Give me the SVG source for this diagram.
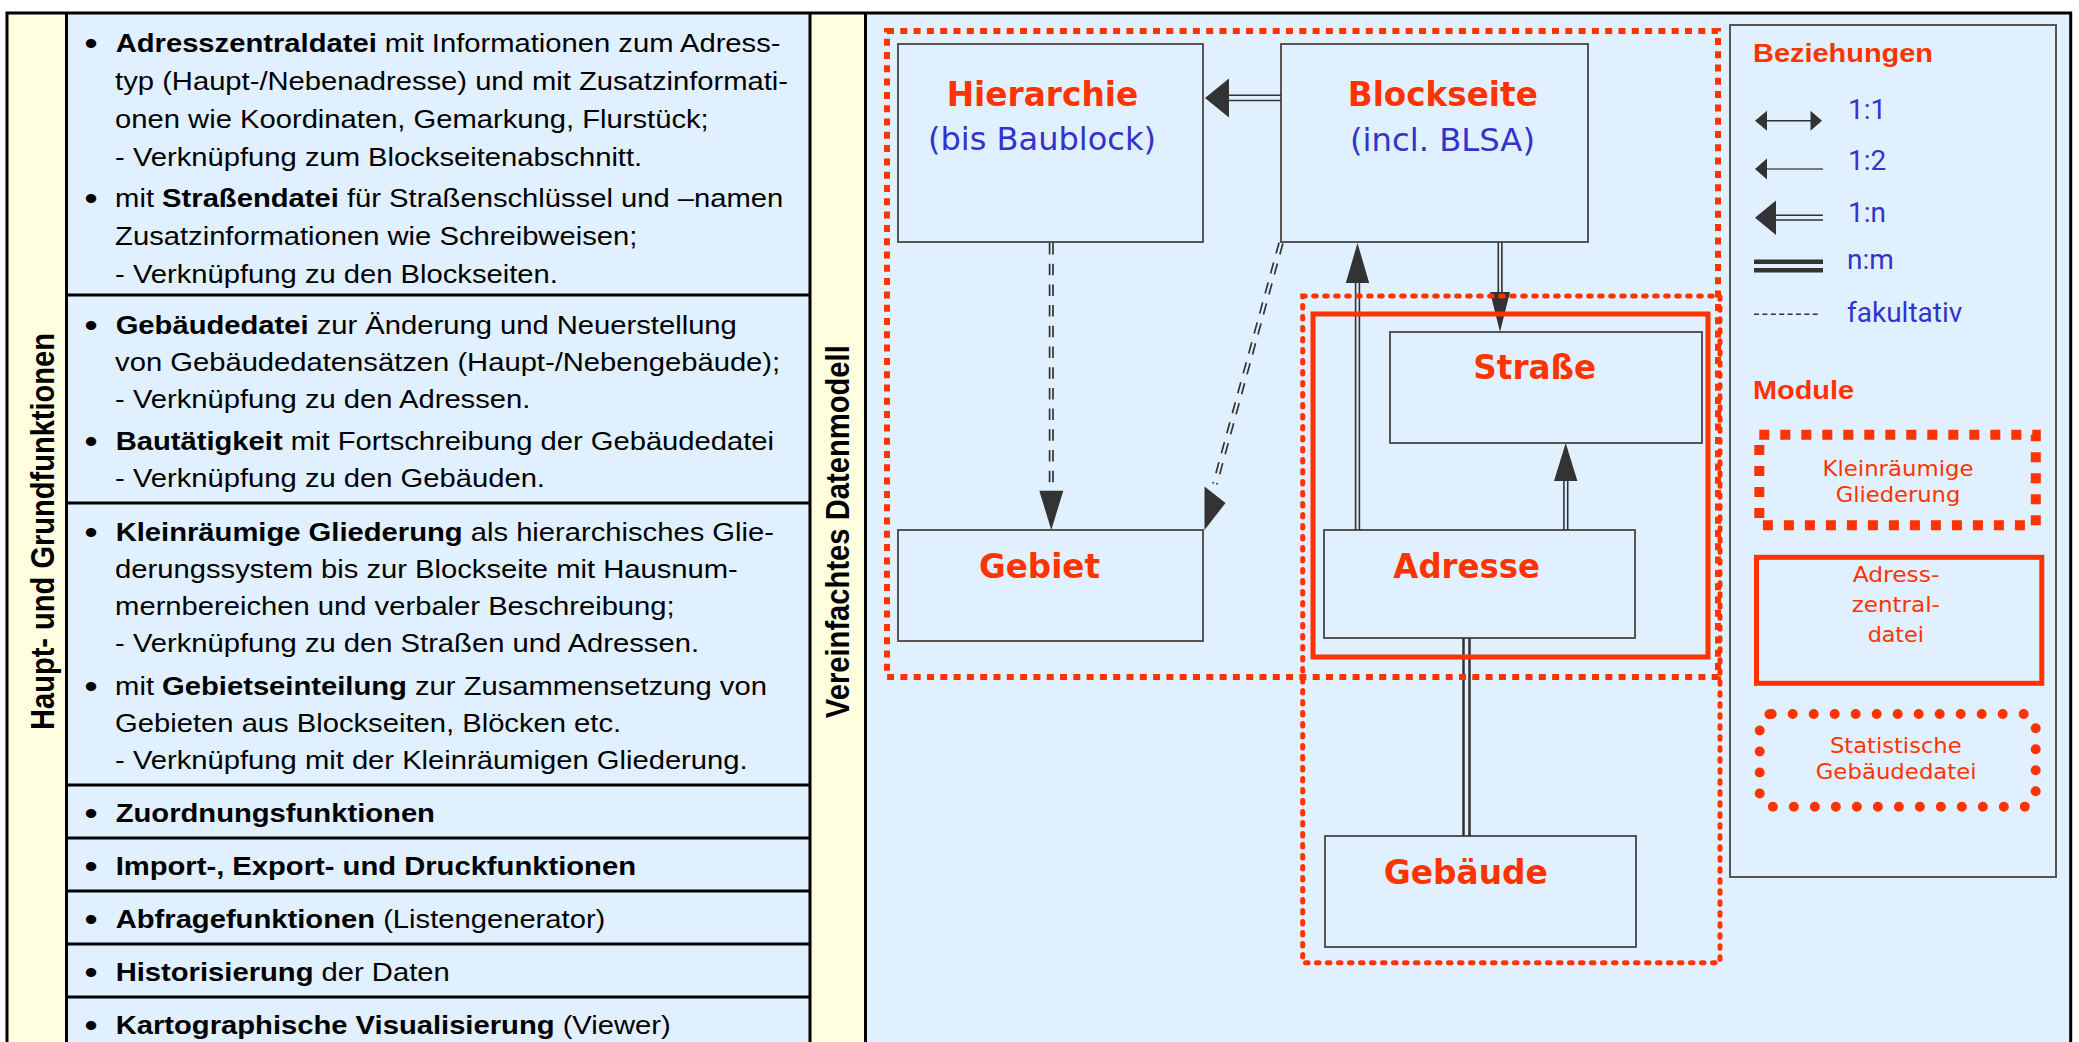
<svg xmlns="http://www.w3.org/2000/svg" width="2079" height="1042" viewBox="0 0 2079 1042">
<defs>
<style>
.frame{stroke:#000;stroke-width:3;fill:none}
.sep{stroke:#000;stroke-width:3;fill:none}
.txt{font-family:"Liberation Sans",Arial,sans-serif;font-size:26px;fill:#000}
.b{font-weight:bold}
.bul{font-weight:bold;font-size:32px;text-anchor:middle}
.side{font-family:"Liberation Sans",Arial,sans-serif;font-weight:bold;font-size:29px;fill:#000;text-anchor:middle}
.box{fill:none;stroke:#555;stroke-width:2}
.lbl{font-family:"DejaVu Sans",Verdana,sans-serif;font-weight:bold;font-size:34px;fill:#FF3300;text-anchor:middle}
.sub{font-family:"DejaVu Sans",Verdana,sans-serif;font-size:32px;fill:#3333CC;text-anchor:middle}
.ln{stroke:#333;stroke-width:1.6;fill:none}
.dl{stroke:#333;stroke-width:1.7;fill:none;stroke-dasharray:11.5 9.2}
.ah{fill:#333;stroke:none}
.modK{fill:none;stroke:#FF3300;stroke-width:6;stroke-dasharray:7 6.3}
.modA{fill:none;stroke:#FF3300;stroke-width:5}
.modS{fill:none;stroke:#FF3300;stroke-width:5;stroke-linecap:round;stroke-dasharray:2.5 8.5}
.leg{font-family:Roboto,"Liberation Sans",sans-serif;font-size:28px;fill:#3333CC}
.legh{font-family:"Liberation Sans",Arial,sans-serif;font-weight:bold;font-size:26px;fill:#FF3300}
.mt{font-family:"DejaVu Sans",Verdana,sans-serif;font-size:21px;fill:#FF3300;text-anchor:middle}
</style>
</defs>

<g id="background">
<rect x="0" y="0" width="2079" height="1042" fill="#fff"/>
<rect x="7" y="13" width="59.5" height="1029" fill="#FFFFE0"/>
<rect x="66.5" y="13" width="743.5" height="1029" fill="#E0F0FF"/>
<rect x="810" y="13" width="55.5" height="1029" fill="#FFFFE0"/>
<rect x="865.5" y="13" width="1205.2" height="1029" fill="#E0F0FF"/>
<path class="frame" d="M7,1042 V13 H2070.7 V1042 M66.5,13 V1042 M810,13 V1042 M865.5,13 V1042"/>
<path class="sep" d="M66.5,295 H810 M66.5,503 H810 M66.5,785 H810 M66.5,838 H810 M66.5,891 H810 M66.5,944 H810 M66.5,997 H810"/>
</g>

<g id="side-labels">
<text class="side" transform="translate(54,531.5) scale(1.12,1) rotate(-90)" textLength="397" lengthAdjust="spacingAndGlyphs">Haupt- und Grundfunktionen</text>
<text class="side" transform="translate(849,531.7) scale(1.12,1) rotate(-90)" textLength="373" lengthAdjust="spacingAndGlyphs">Vereinfachtes Datenmodell</text>
</g>

<g id="functions" class="txt" transform="scale(1.123,1)">
<g class="bul">
<text x="81" y="54.5">•</text>
<text x="81" y="209">•</text>
<text x="81" y="336">•</text>
<text x="81" y="452">•</text>
<text x="81" y="543">•</text>
<text x="81" y="697">•</text>
<text x="81" y="824">•</text>
<text x="81" y="877">•</text>
<text x="81" y="930">•</text>
<text x="81" y="983">•</text>
<text x="81" y="1036">•</text>
</g>
<text x="103" y="52.5"><tspan class="b">Adresszentraldatei</tspan> mit Informationen zum Adress-</text>
<text x="102.5" y="90.5">typ (Haupt-/Nebenadresse) und mit Zusatzinformati-</text>
<text x="102.5" y="128.5">onen wie Koordinaten, Gemarkung, Flurstück;</text>
<text x="102.5" y="166.5">- Verknüpfung zum Blockseitenabschnitt.</text>
<text x="102.5" y="207">mit <tspan class="b">Straßendatei</tspan> für Straßenschlüssel und –namen</text>
<text x="102.5" y="245">Zusatzinformationen wie Schreibweisen;</text>
<text x="102.5" y="283">- Verknüpfung zu den Blockseiten.</text>

<text x="103" y="334"><tspan class="b">Gebäudedatei</tspan> zur Änderung und Neuerstellung</text>
<text x="102.5" y="371">von Gebäudedatensätzen (Haupt-/Nebengebäude);</text>
<text x="102.5" y="408">- Verknüpfung zu den Adressen.</text>
<text x="103" y="450"><tspan class="b">Bautätigkeit</tspan> mit Fortschreibung der Gebäudedatei</text>
<text x="102.5" y="487">- Verknüpfung zu den Gebäuden.</text>

<text x="103" y="541"><tspan class="b">Kleinräumige Gliederung</tspan> als hierarchisches Glie-</text>
<text x="102.5" y="578">derungssystem bis zur Blockseite mit Hausnum-</text>
<text x="102.5" y="615">mernbereichen und verbaler Beschreibung;</text>
<text x="102.5" y="652">- Verknüpfung zu den Straßen und Adressen.</text>
<text x="102.5" y="695">mit <tspan class="b">Gebietseinteilung</tspan> zur Zusammensetzung von</text>
<text x="102.5" y="732">Gebieten aus Blockseiten, Blöcken etc.</text>
<text x="102.5" y="769">- Verknüpfung mit der Kleinräumigen Gliederung.</text>

<text x="103" y="822"><tspan class="b">Zuordnungsfunktionen</tspan></text>
<text x="103" y="875"><tspan class="b">Import-, Export- und Druckfunktionen</tspan></text>
<text x="103" y="928"><tspan class="b">Abfragefunktionen</tspan> (Listengenerator)</text>
<text x="103" y="981"><tspan class="b">Historisierung</tspan> der Daten</text>
<text x="103" y="1034"><tspan class="b">Kartographische Visualisierung</tspan> (Viewer)</text>
</g>

<g id="node-hierarchie">
<rect class="box" x="898" y="44" width="305" height="198"/>
<text class="lbl" x="1042.5" y="106" textLength="191.6" lengthAdjust="spacingAndGlyphs">Hierarchie</text>
<text class="sub" x="1042" y="150" textLength="228" lengthAdjust="spacingAndGlyphs">(bis Baublock)</text>
</g>
<g id="node-blockseite">
<rect class="box" x="1281" y="44" width="307" height="198"/>
<text class="lbl" x="1442.8" y="106" textLength="190" lengthAdjust="spacingAndGlyphs">Blockseite</text>
<text class="sub" x="1442.5" y="150.5" textLength="185" lengthAdjust="spacingAndGlyphs">(incl. BLSA)</text>
</g>
<g id="node-gebiet">
<rect class="box" x="898" y="530" width="305" height="111"/>
<text class="lbl" x="1039.5" y="578.3" textLength="121" lengthAdjust="spacingAndGlyphs">Gebiet</text>
</g>
<g id="node-strasse">
<rect class="box" x="1390" y="332" width="312" height="111"/>
<text class="lbl" x="1534.7" y="379.3" textLength="122.7" lengthAdjust="spacingAndGlyphs">Straße</text>
</g>
<g id="node-adresse">
<rect class="box" x="1324" y="530" width="311" height="108"/>
<text class="lbl" x="1466.7" y="578.3" textLength="146.7" lengthAdjust="spacingAndGlyphs">Adresse</text>
</g>
<g id="node-gebaeude">
<rect class="box" x="1325" y="836" width="311" height="111"/>
<text class="lbl" x="1465.8" y="884" textLength="164" lengthAdjust="spacingAndGlyphs">Gebäude</text>
</g>

<g id="connectors">
<!-- Blockseite -> Hierarchie (1:n) -->
<path class="ln" d="M1229,95.3 H1281 M1229,100.5 H1281"/>
<polygon class="ah" points="1205,98 1229,78.5 1229,117.5"/>
<!-- Hierarchie -> Gebiet (fakultativ) -->
<path class="dl" d="M1049.6,243 V486 M1053,243 V486"/>
<polygon class="ah" points="1051.3,530 1039.3,490.7 1063.3,490.7"/>
<!-- Blockseite -> Gebiet (fakultativ) -->
<path class="dl" d="M1282.9,243.5 L1216.9,484.5 M1279.1,242.5 L1213.1,483.5"/>
<polygon class="ah" points="1204.5,486.5 1225.5,503 1204.5,530"/>
<!-- Blockseite -> Strasse -->
<path class="ln" d="M1498.3,242 V293 M1501.9,242 V293"/>
<polygon class="ah" points="1500,332 1490,292 1510,292"/>
<!-- Adresse -> Blockseite -->
<path class="ln" d="M1355.6,282 V530 M1359.4,282 V530"/>
<polygon class="ah" points="1357.5,243 1345.8,283 1369.2,283"/>
<!-- Adresse -> Strasse -->
<path class="ln" d="M1563.9,480 V530 M1567.7,480 V530"/>
<polygon class="ah" points="1565.7,443 1554,481 1577.4,481"/>
<!-- Adresse - Gebaeude (n:m) -->
<path class="ln" style="stroke-width:2.5" d="M1463.5,638 V836 M1469.5,638 V836"/>
</g>

<g id="module-kleinraeumige-gliederung">
<rect class="modK" x="887" y="31" width="831" height="646"/>
</g>
<g id="module-adresszentraldatei">
<rect class="modA" x="1313" y="314" width="395" height="343"/>
</g>
<g id="module-statistische-gebaeudedatei">
<rect class="modS" x="1302.7" y="296" width="417.3" height="666.7"/>
</g>

<g id="legend">
<rect class="box" x="1730" y="25" width="326" height="852"/>
<text class="legh" x="1753" y="62.3" textLength="180" lengthAdjust="spacingAndGlyphs">Beziehungen</text>
<path class="ln" d="M1766,120.7 H1811"/>
<polygon class="ah" points="1755,120.7 1767,110.7 1767,130.7"/>
<polygon class="ah" points="1822,120.7 1810.5,110.7 1810.5,130.7"/>
<text class="leg" x="1848" y="118.5">1:1</text>
<path class="ln" style="stroke:#555" d="M1766,169 H1823"/>
<polygon class="ah" points="1755,169 1767,158.5 1767,179.5"/>
<text class="leg" x="1848" y="170">1:2</text>
<path class="ln" style="stroke-width:1.4" d="M1775,215.3 H1823 M1775,220 H1823"/>
<polygon class="ah" points="1755,217.7 1776,200.5 1776,235"/>
<text class="leg" x="1848" y="221.7">1:n</text>
<path class="ln" style="stroke-width:4.6" d="M1754,261.7 H1823 M1754,270.3 H1823"/>
<text class="leg" x="1847" y="269.3">n:m</text>
<path class="ln" style="stroke-width:1.5;stroke-dasharray:5 3.4" d="M1754,314.3 H1819"/>
<text class="leg" x="1847" y="321.5">fakultativ</text>
<text class="legh" x="1753" y="399" textLength="101" lengthAdjust="spacingAndGlyphs">Module</text>
<g id="legend-kleinraeumige-gliederung">
<rect x="1759.3" y="434.7" width="276.5" height="90.6" fill="none" stroke="#FF3300" stroke-width="10" stroke-dasharray="10 11"/>
<text class="mt" x="1898" y="476" textLength="151" lengthAdjust="spacingAndGlyphs">Kleinräumige</text>
<text class="mt" x="1898" y="501.7" textLength="124.7" lengthAdjust="spacingAndGlyphs">Gliederung</text>
</g>
<g id="legend-adresszentraldatei">
<rect x="1756.5" y="557.3" width="285.3" height="126" fill="none" stroke="#FF3300" stroke-width="5"/>
<text class="mt" x="1896" y="581.7" textLength="86.7" lengthAdjust="spacingAndGlyphs">Adress-</text>
<text class="mt" x="1895.8" y="612.3" textLength="88.3" lengthAdjust="spacingAndGlyphs">zentral-</text>
<text class="mt" x="1895.8" y="641.7" textLength="56.3" lengthAdjust="spacingAndGlyphs">datei</text>
</g>
<g id="legend-statistische-gebaeudedatei">
<rect x="1759.7" y="714" width="276" height="92.7" rx="12" fill="none" stroke="#FF3300" stroke-width="10" stroke-linecap="round" stroke-dasharray="0 21"/>
<text class="mt" x="1895.8" y="753.3" textLength="131.7" lengthAdjust="spacingAndGlyphs">Statistische</text>
<text class="mt" x="1896.2" y="779.3" textLength="161" lengthAdjust="spacingAndGlyphs">Gebäudedatei</text>
</g>
</g>
</svg>
